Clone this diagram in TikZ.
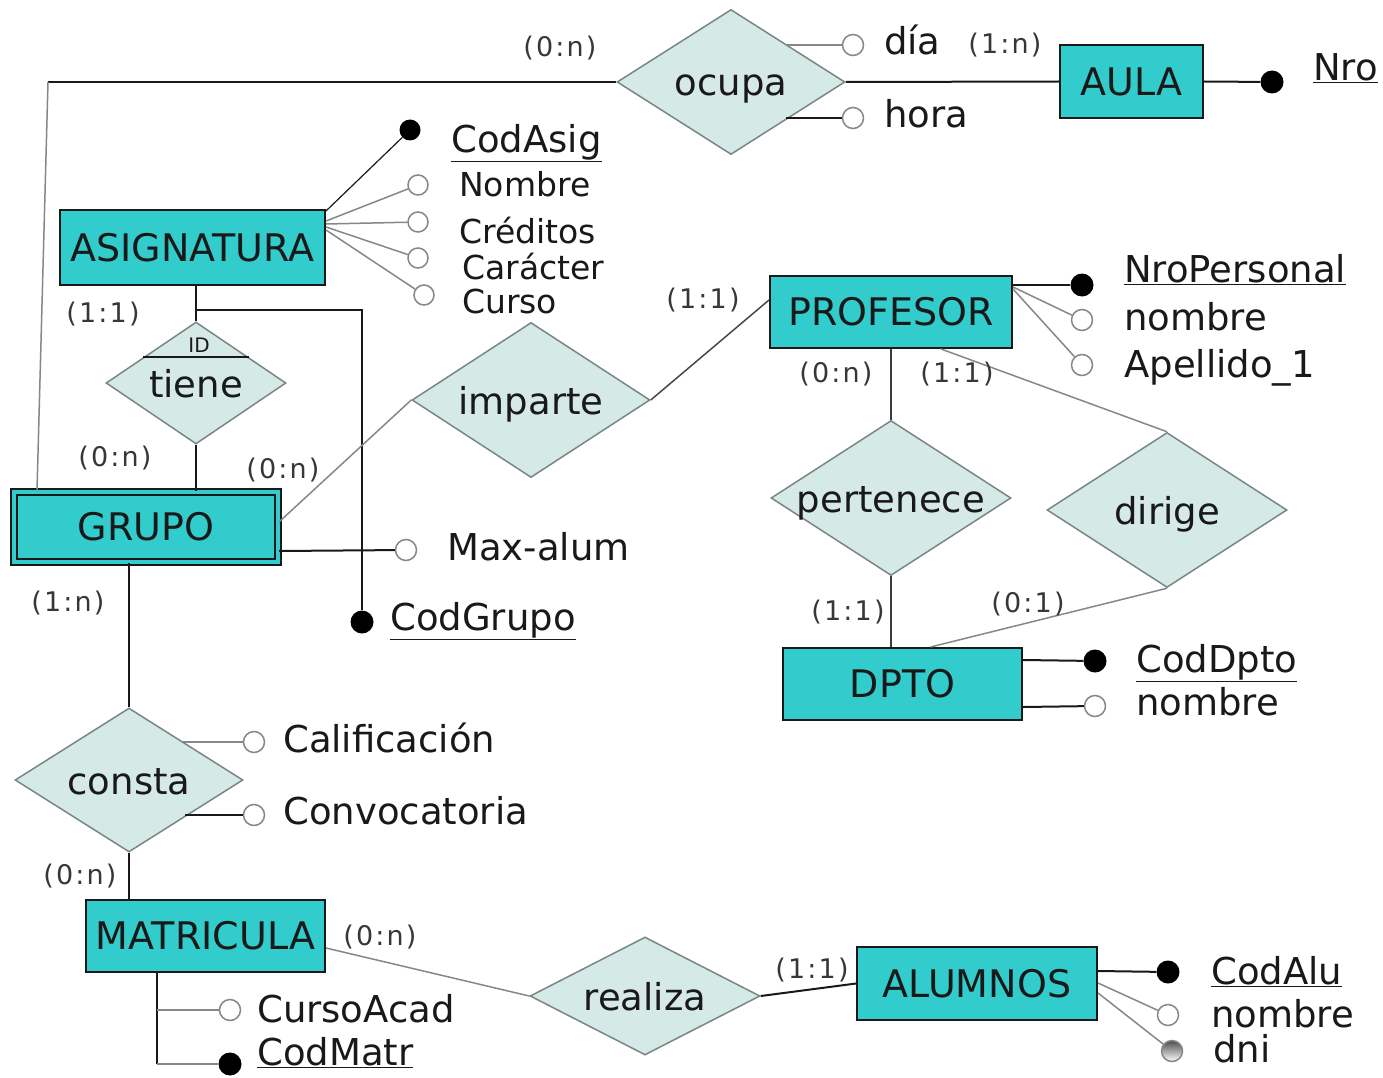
\documentclass[tikz,border=0pt]{standalone}
\usepackage{fontspec}
\setmainfont{DejaVu Sans}
\newfontfamily\cardfont[LetterSpace=8]{DejaVu Sans}
\usetikzlibrary{shapes.geometric,calc}

\definecolor{entfill}{RGB}{51,204,204}
\definecolor{relfill}{RGB}{213,233,230}
\definecolor{reldraw}{RGB}{120,135,133}
\definecolor{ink}{RGB}{25,25,25}
\definecolor{cardink}{RGB}{55,55,55}
\definecolor{lightline}{RGB}{135,135,135}

\tikzset{
  entity/.style={rectangle, draw=ink, line width=2pt, fill=entfill, inner sep=0pt,
    font=\fontsize{38}{45}\selectfont, text=ink},
  rel/.style={diamond, draw=reldraw, line width=1.5pt, fill=relfill, inner sep=0pt},
  rellabel/.style={font=\fontsize{37}{44}\selectfont, text=ink, inner sep=0pt,
    text height=28pt, text depth=0pt},
  keyattr/.style={circle, fill=black, inner sep=0pt, minimum size=23pt},
  attr/.style={circle, draw=lightline, fill=white, line width=1.5pt, inner sep=0pt, minimum size=21pt},
  attrtext/.style={anchor=west, font=\fontsize{37}{44}\selectfont, text=ink, inner sep=0pt,
    text height=28pt, text depth=7pt},
  smallattr/.style={attrtext, font=\fontsize{33}{40}\selectfont, text height=25pt, text depth=6pt},
  card/.style={font=\cardfont\fontsize{27}{32}\selectfont, text=cardink, inner sep=0pt},
  link/.style={draw=ink, line width=2pt},
  faint/.style={draw=lightline, line width=1.5pt},
}

\begin{document}
\begin{tikzpicture}[x=1pt,y=-1pt]
\useasboundingbox (0,0) rectangle (1383,1078);
\fill[white] (0,0) rectangle (1383,1078);

% ---------- entities ----------
\node[entity, minimum width=143pt, minimum height=73pt] (aula) at (1131.5,81.5) {AULA};
\node[entity, minimum width=265pt, minimum height=75pt] (asig) at (192.5,247.5) {ASIGNATURA};
\node[entity, minimum width=242pt, minimum height=72pt] (prof) at (891,312) {PROFESOR};
\node[entity, minimum width=264pt, minimum height=70pt, double=entfill, double distance=4pt]
  (grupo) at (146,527) {GRUPO};
\node[entity, minimum width=239pt, minimum height=72pt] (dpto) at (902.5,684) {DPTO};
\node[entity, minimum width=239pt, minimum height=72pt] (matr) at (205.5,936) {MATRICULA};
\node[entity, minimum width=240pt, minimum height=73pt] (alu) at (977,983.5) {ALUMNOS};

% ---------- relationships ----------
\node[rel, minimum width=228pt, minimum height=145pt, label={[rellabel]center:ocupa}] (ocupa) at (731,82) {};
\node[rel, minimum width=180pt, minimum height=122pt, label={[rellabel]center:tiene}] (tiene) at (196,383) {};
\node[rel, minimum width=238pt, minimum height=155pt, label={[rellabel]center:imparte}] (imparte) at (531,400) {};
\node[rel, minimum width=240pt, minimum height=155pt, label={[rellabel]center:pertenece}] (pert) at (891,498) {};
\node[rel, minimum width=240pt, minimum height=155pt, label={[rellabel]center:dirige}] (dirige) at (1167,510) {};
\node[rel, minimum width=228pt, minimum height=144pt, label={[rellabel]center:consta}] (consta) at (129,780) {};
\node[rel, minimum width=230pt, minimum height=118pt, label={[rellabel]center:realiza}] (realiza) at (645,996) {};

% identifying mark on "tiene"
\draw[ink, line width=1.5pt] ($(tiene.north)!0.58!(tiene.west)$) -- ($(tiene.north)!0.58!(tiene.east)$);
\node[font=\fontsize{20}{24}\selectfont, text=ink, inner sep=0pt] (idmark) at (199,345) {ID};

% ---------- attribute markers ----------
\node[attr] (dia) at (853,45) {};
\node[attr] (hora) at (853,118) {};
\node[keyattr] (nro) at (1272,82) {};

\node[keyattr, minimum size=21pt] (codasig) at (410,130) {};
\node[attr, minimum size=20pt] (nombreA) at (418,185) {};
\node[attr, minimum size=20pt] (creditos) at (418,222) {};
\node[attr, minimum size=20pt] (caracter) at (418,258) {};
\node[attr, minimum size=20pt] (curso) at (424,295) {};

\node[keyattr] (nroper) at (1082,285) {};
\node[attr] (nombreP) at (1082,320) {};
\node[attr] (apellido) at (1082,365) {};

\node[attr] (maxalum) at (406,550) {};
\node[keyattr] (codgrupo) at (362,622) {};

\node[keyattr] (coddpto) at (1095,661) {};
\node[attr] (nombreD) at (1095,706) {};

\node[attr] (calif) at (254,742) {};
\node[attr] (convoc) at (254,815) {};

\node[attr] (cursoacad) at (230,1010) {};
\node[keyattr] (codmatr) at (230,1064) {};

\node[keyattr] (codalu) at (1168,972) {};
\node[attr] (nombreAl) at (1168,1015) {};
\node[circle, draw=lightline, line width=1.5pt, inner sep=0pt, minimum size=21pt,
  top color=black!70, bottom color=white] (dni) at (1172,1051) {};

% ---------- attribute names ----------
\node[attrtext] (diat) at (884,44) {día};
\node[attrtext] (horat) at (884,117) {hora};
\node[attrtext] (nrot) at (1313,70) {\underline{Nro}};

\node[attrtext] (codasigt) at (451,142) {\underline{CodAsig}};
\node[smallattr] (nombreAt) at (459,187) {Nombre};
\node[smallattr] (creditost) at (459,234) {Créditos};
\node[smallattr] (caractert) at (462,270) {Carácter};
\node[smallattr] (cursot) at (462,304) {Curso};

\node[attrtext] (nropert) at (1124,272) {\underline{NroPersonal}};
\node[attrtext] (nombrePt) at (1124,320) {nombre};
\node[attrtext] (apellidot) at (1124,367) {Apellido\_1};

\node[attrtext] (maxalumt) at (447,550) {Max-alum};
\node[attrtext] (codgrupot) at (390,620) {\underline{CodGrupo}};

\node[attrtext] (coddptot) at (1136,662) {\underline{CodDpto}};
\node[attrtext] (nombreDt) at (1136,705) {nombre};

\node[attrtext] (calift) at (283,742) {Calificación};
\node[attrtext] (convoct) at (283,814) {Convocatoria};

\node[attrtext] (cursoacadt) at (257,1012) {CursoAcad};
\node[attrtext] (codmatrt) at (257,1055) {\underline{CodMatr}};

\node[attrtext] (codalut) at (1211,974) {\underline{CodAlu}};
\node[attrtext] (nombreAlt) at (1211,1017) {nombre};
\node[attrtext] (dnit) at (1213,1052) {dni};

% ---------- connectors ----------
\coordinate (topcorner) at (48,82);
\draw[link] (ocupa.west) -- (topcorner);
\draw[faint] (topcorner) -- ([xshift=24pt]grupo.north west);
\draw[link] (ocupa.east) -- (aula.west);
\draw[link] (aula.east) -- (nro);
\coordinate (diaS) at (787,45);
\coordinate (horaS) at (786,118);
\draw[faint] (diaS) -- (dia);
\draw[link] (horaS) -- (hora);

\draw[ink, line width=1.2pt] ([yshift=-2pt]asig.north east) -- (codasig);
\draw[faint] ([yshift=-12pt]asig.north east) -- (nombreA);
\draw[faint] ([yshift=-15pt]asig.north east) -- (creditos);
\draw[faint] ([yshift=-18pt]asig.north east) -- (caracter);
\draw[faint] ([yshift=-21pt]asig.north east) -- (curso);

\coordinate (jA) at (196,310);
\coordinate (jB) at (362,310);
\draw[link] (tiene.north |- asig.south) -- (tiene.north);
\draw[link] (jA) -- (jB) -- (codgrupo);
\draw[link] (tiene.south) -- (tiene.south |- grupo.north);

\draw[faint] ([yshift=-31pt]grupo.north east) -- (imparte.west);
\draw[ink!80, line width=1.5pt] (imparte.east) -- ([yshift=12pt]prof.west);
\draw[link] ([yshift=12pt]grupo.south east) -- (maxalum);

\draw[link] ([yshift=-10pt]prof.north east) -- (nroper);
\draw[faint] ([yshift=-12pt]prof.north east) -- (nombreP);
\draw[faint] ([yshift=-14pt]prof.north east) -- (apellido);
\draw[ink!85, line width=1.5pt] (pert.north |- prof.south) -- (pert.north);
\draw[faint] ([xshift=50pt]prof.south) -- (dirige.north);
\draw[ink!85, line width=1.5pt] (pert.south) -- (pert.south |- dpto.north);
\draw[faint] (dirige.south) -- ([xshift=28pt]dpto.north);
\draw[link] ([yshift=-13pt]dpto.north east) -- (coddpto);
\draw[link] ([yshift=14pt]dpto.south east) -- (nombreD);

\draw[link] (consta.north |- grupo.south) -- (consta.north);
\coordinate (califS) at (183,742);
\coordinate (convocS) at (185,815);
\draw[faint] (califS) -- (calif);
\draw[link] (convocS) -- (convoc);
\draw[link] (consta.south) -- (consta.south |- matr.north);

\coordinate (mtop) at (157,972);
\coordinate (mA) at (157,1010);
\coordinate (mB) at (157,1064);
\draw[link] (mtop) -- (mB);
\draw[faint] (mA) -- (cursoacad);
\draw[faint] (mB) -- (codmatr);
\draw[faint] ([yshift=-12pt]matr.east) -- (realiza.west);
\draw[link] (realiza.east) -- (alu.west);
\draw[link] ([yshift=-25pt]alu.north east) -- (codalu);
\draw[faint] ([yshift=-37pt]alu.north east) -- (nombreAl);
\draw[faint] ([yshift=-47pt]alu.north east) -- (dni);

% ---------- cardinalities ----------
\node[card] (c1) at (560,48) {(0:n)};
\node[card] (c2) at (1005,45) {(1:n)};
\node[card] (c3) at (103,314) {(1:1)};
\node[card] (c4) at (115,458) {(0:n)};
\node[card] (c5) at (283,470) {(0:n)};
\node[card] (c6) at (703,300) {(1:1)};
\node[card] (c7) at (836,374) {(0:n)};
\node[card] (c8) at (957,374) {(1:1)};
\node[card] (c9) at (848,612) {(1:1)};
\node[card] (c10) at (1028,604) {(0:1)};
\node[card] (c11) at (68,603) {(1:n)};
\node[card] (c12) at (80,876) {(0:n)};
\node[card] (c13) at (380,937) {(0:n)};
\node[card] (c14) at (812,970) {(1:1)};
\end{tikzpicture}
\end{document}
